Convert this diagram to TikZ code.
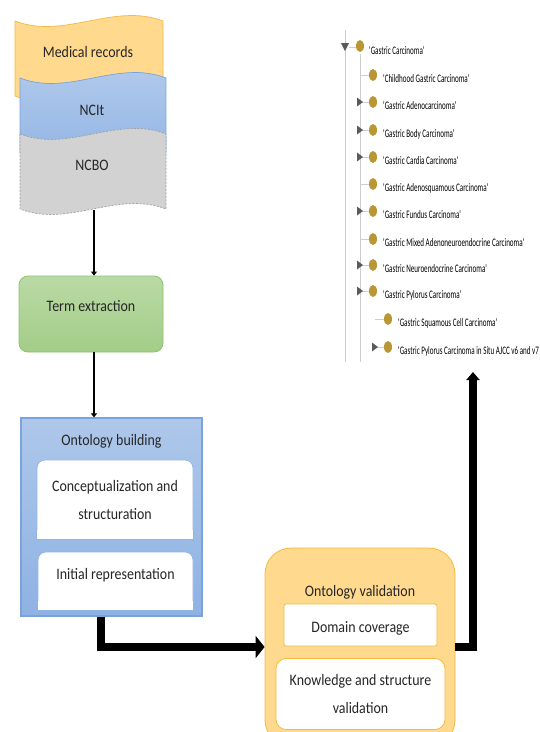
\documentclass[tikz,border=0pt]{standalone}
\usepackage{fontspec}
\setmainfont{Carlito}[FakeStretch=0.87]
\newfontfamily\treefont{Carlito}[FakeStretch=0.615]
\usepackage{xcolor}
\definecolor{orfill}{RGB}{255,217,142}
\definecolor{orline}{RGB}{244,185,66}
\definecolor{bltop}{RGB}{180,203,236}
\definecolor{blbot}{RGB}{142,178,227}
\definecolor{blline}{RGB}{120,163,219}
\definecolor{grfill}{RGB}{210,210,210}
\definecolor{grline}{RGB}{160,160,160}
\definecolor{gntop}{RGB}{186,218,165}
\definecolor{gnbot}{RGB}{163,205,135}
\definecolor{gnline}{RGB}{140,195,110}
\definecolor{txtdark}{RGB}{38,38,38}
\definecolor{olive}{RGB}{184,151,52}
\definecolor{treegray}{RGB}{205,205,205}
\definecolor{markgray}{RGB}{90,90,90}
\newcommand\mainsz{\fontsize{16}{28}\selectfont}
\usepackage{tikz}
\usetikzlibrary{arrows.meta,positioning,calc}
\tikzset{
	srcwave/.style  = {line width=0.7pt},
	orwave/.style   = {srcwave,draw=orline,fill=orfill},
	blwave/.style   = {srcwave,draw=blline,top color=bltop,bottom color=blbot},
	grwave/.style   = {srcwave,draw=grline,fill=grfill,dash pattern=on 2pt off 1.5pt},
	srclbl/.style   = {font=\mainsz,text=txtdark},
	termbox/.style  = {rectangle,rounded corners=9pt,draw=gnline,line width=0.8pt,
		top color=gntop,bottom color=gnbot,minimum width=144pt,
		inner sep=0pt,font=\mainsz,text=txtdark},
	buildbox/.style = {rectangle,draw=blline,line width=1.2pt,
		top color=bltop!85!blbot,bottom color=blbot,minimum width=181pt,
		inner sep=0pt,font=\mainsz,text=txtdark},
	innerbox/.style = {rectangle,rounded corners=8pt,draw=blline!80,fill=white,
		line width=0.7pt,inner sep=0pt,align=center,font=\mainsz,text=txtdark},
	validbox/.style = {rectangle,rounded corners=26pt,draw=orline,fill=orfill,
		line width=0.8pt,minimum width=190pt,inner sep=0pt,
		font=\mainsz,text=txtdark},
	vinner/.style   = {rectangle,rounded corners=2pt,draw=orline,fill=white,
		line width=0.8pt,inner sep=0pt,align=center,font=\mainsz,text=txtdark},
	thinarr/.style  = {-{Triangle[length=4pt,width=6pt]},line width=1.6pt,black},
	bigarr/.style   = {line width=8pt,black},
	treeline/.style = {draw=treegray,line width=0.8pt},
	treemark/.style = {fill=markgray},
	treelbl/.style  = {anchor=west,inner sep=0pt,
		font=\treefont\fontsize{11.5}{12}\selectfont,text=black},
}

\begin{document}
\begin{tikzpicture}[x=1pt,y=-1pt]
	\useasboundingbox (0,0) rectangle (539,732);
	\clip (0,0) rectangle (539,732);
	
	%% Sources
	\foreach \xa/\xb/\yt/\sty in {15/163/21/orwave,20/166/78/blwave,20/166/134/grwave}
	\draw[\sty] (\xa,\yt) .. controls ({\xa+(\xb-\xa)/3},{\yt+19}) and ({\xa+2*(\xb-\xa)/3},{\yt-19}) .. (\xb,\yt)
	-- (\xb,{\yt+75}) .. controls ({\xa+2*(\xb-\xa)/3},{\yt+75-19}) and ({\xa+(\xb-\xa)/3},{\yt+75+19}) .. (\xa,{\yt+75}) -- cycle;
	\node (rec)  [srclbl] at (88,52)  {Medical records};
	\node (ncit) [srclbl] at (92,110) {NCIt};
	\node (ncbo) [srclbl] at (92,165) {NCBO};
	\coordinate (ncbo-b) at (94,210);
	
	%% Term extraction
	\node (term) [termbox,text height=35pt,text depth=41pt] at (91,314) {Term extraction};
	
	%% Ontology building
	\node (build) [buildbox,text height=27pt,text depth=171pt] at (111.5,517) {Ontology building};
	\node (concept) [innerbox,minimum width=156pt,minimum height=79pt] at (115,499.5)
	{Conceptualization and\\structuration};
	\node (initrep) [innerbox,minimum width=155pt,text height=27pt,text depth=31pt] at (115.5,581)
	{Initial representation};
	\foreach \b in {concept,initrep}
	\path[fill=white,draw=blline!80,line width=0.7pt] ([yshift=9pt]\b.south west)
	-- (\b.south west) -- (\b.south east) -- ([yshift=9pt]\b.south east);
	
	%% Ontology validation
	\node (valid) [validbox,text height=48pt,text depth=150pt] at (360,647) {Ontology validation};
	\node (domcov) [vinner,minimum width=153pt,text height=28pt,text depth=14pt] at (360.5,625)
	{Domain coverage};
	\node (knowval) [vinner,rounded corners=10pt,minimum width=169pt,minimum height=71pt] at (360.5,694)
	{Knowledge and structure\\validation};
	
	%% Ontology tree
	\coordinate (tree-b) at (473,372);
	\draw[treeline] (345,30) -- (345,362);
	\draw[treeline] (360,54) -- (360,362);
	\fill[treemark] (341,43) -- (349,43) -- (345,51) -- cycle;
	\draw[treeline] (349,47) -- (356,47);
	\fill[olive] (360,46) ellipse [x radius=4pt,y radius=6pt];
	\node (lab0) [treelbl] at (369,51) {'Gastric Carcinoma'};
	\foreach \n/\cx/\y/\tri/\txt in {
		1/373/79/0/Childhood Gastric Carcinoma',
		2/373/106/1/Gastric Adenocarcinoma',
		3/373/134/1/Gastric Body Carcinoma',
		4/373/161/1/Gastric Cardia Carcinoma',
		5/373/188/0/Gastric Adenosquamous Carcinoma',
		6/373/215/1/Gastric Fundus Carcinoma',
		7/373/243/0/Gastric Mixed Adenoneuroendocrine Carcinoma',
		8/373/269/1/Gastric Neuroendocrine Carcinoma',
		9/373/295/1/Gastric Pylorus Carcinoma',
		10/388/323/0/Gastric Squamous Cell Carcinoma',
		11/388/351/1/Gastric Pylorus Carcinoma in Situ AJCC v6 and v7}{
		\draw[treeline] ({\cx-13},{\y-4}) -- ({\cx-4},{\y-4});
		\ifnum\tri=1
		\fill[treemark] ({\cx-16},{\y-8.5}) -- ({\cx-16},{\y+0.5}) -- ({\cx-10},{\y-4}) -- cycle;
		\fi
		\fill[olive] (\cx,{\y-4}) ellipse [x radius=4pt,y radius=6pt];
		\node (lab\n) [treelbl] at ({\cx+10},\y) {'\txt};
	}
	
	%% Fleches
	\draw[thinarr] (ncbo-b) -- (ncbo-b |- term.north);
	\draw[thinarr] ([xshift=3pt]term.south) -- ([xshift=3pt]term.south |- build.north);
	\draw[bigarr,-{Triangle[length=9pt,width=22pt]}] ([xshift=-11pt]build.south) |- (valid.west);
	\draw[bigarr,-{Triangle[length=8pt,width=13pt]}] (valid.east) -| (tree-b);
\end{tikzpicture}
\end{document}
